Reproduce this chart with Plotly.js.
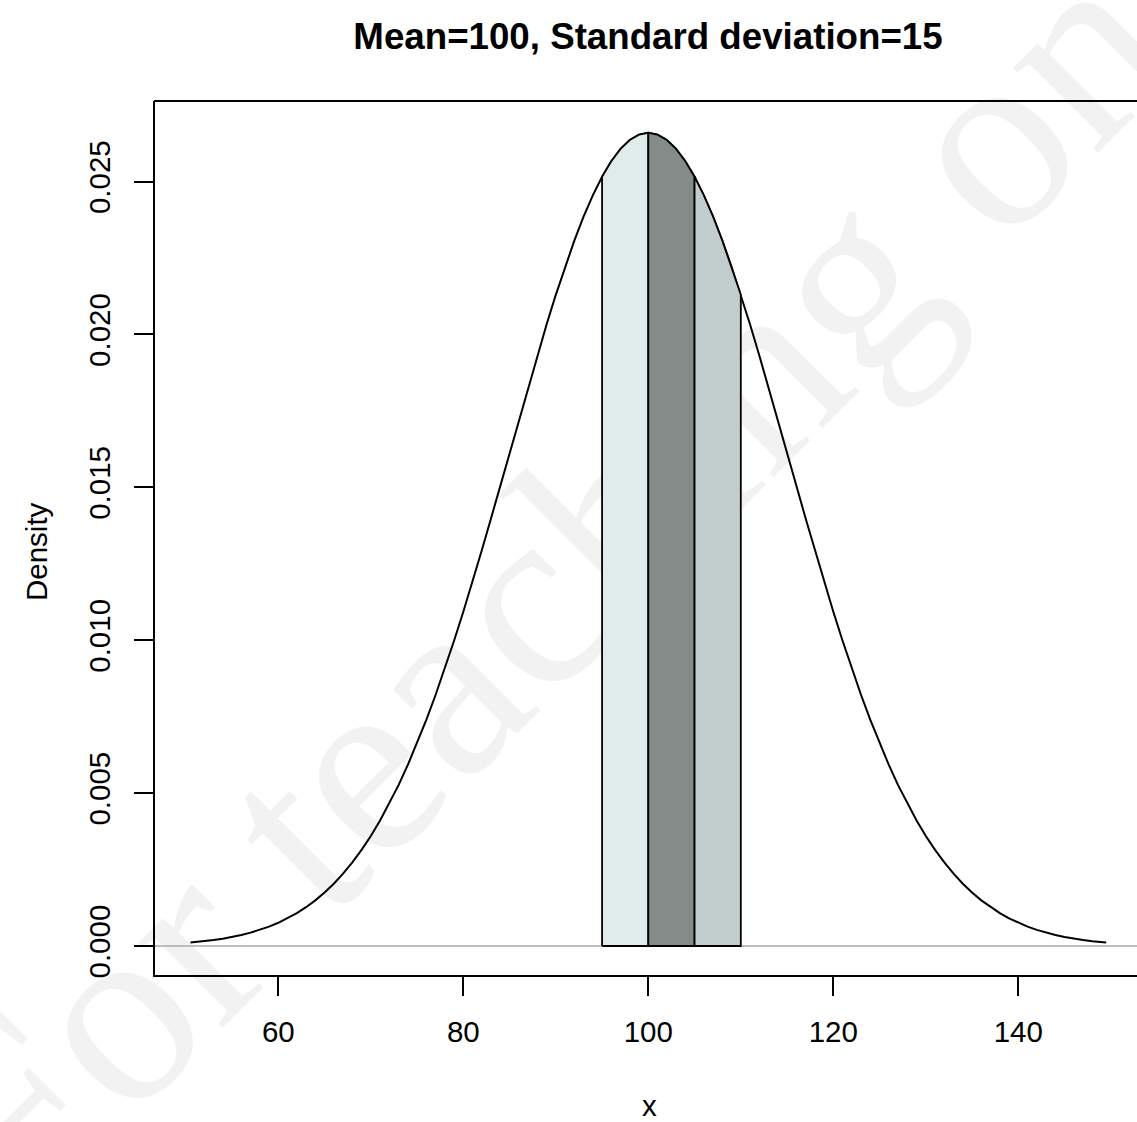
<!DOCTYPE html>
<html>
<head>
<meta charset="utf-8">
<script src="https://cdn.plot.ly/plotly-3.0.1.min.js"></script>
<style>html,body{margin:0;padding:0;background:#fff;}#chart{width:1137px;height:1122px;}</style>
</head>
<body>
<div id="chart"></div>
<script>
// Density curve points
const xValues = [50.5,51,52,53,54,55,56,57,58,59,60,61,62,63,64,65,66,67,68,69,70,71,72,73,74,75,76,77,78,79,80,81,82,83,84,85,86,87,88,89,90,91,92,93,94,95,96,97,98,99,100,
101,102,103,104,105,106,107,108,109,110,111,112,113,114,115,116,117,118,119,120,121,122,123,124,125,126,127,128,129,130,131,132,133,134,135,136,137,138,139,140,141,142,143,144,145,146,147,148,149,149.5];
const densityValues = [0.000115,0.000128,0.000159,0.000196,0.000241,0.000295,0.000360,0.000437,0.000528,0.000635,0.000760,0.000906,0.001075,0.001270,0.001493,0.001748,0.002038,0.002365,0.002733,0.003143,0.003599,0.004104,0.004658,0.005263,0.005921,0.006632,0.007395,0.008209,0.009072,0.009982,0.010934,0.011924,0.012946,0.013993,0.015058,0.016131,0.017205,0.018269,0.019313,0.020326,0.021297,0.022215,0.023070,0.023852,0.024552,0.025159,0.025667,0.026070,0.026361,0.026537,0.026596,
0.026537,0.026361,0.026070,0.025667,0.025159,0.024552,0.023852,0.023070,0.022215,0.021297,0.020326,0.019313,0.018269,0.017205,0.016131,0.015058,0.013993,0.012946,0.011924,0.010934,0.009982,0.009072,0.008209,0.007395,0.006632,0.005921,0.005263,0.004658,0.004104,0.003599,0.003143,0.002733,0.002365,0.002038,0.001748,0.001493,0.001270,0.001075,0.000906,0.000760,0.000635,0.000528,0.000437,0.000360,0.000295,0.000241,0.000196,0.000159,0.000128,0.000115];

// Shaded bands
const bandStarts = [95, 100, 105];
const bandEnds = [100, 105, 110];
const bandColors = ['#e0ecec', '#848b89', '#c2cece'];

const xTickVals = [60, 80, 100, 120, 140];
const yTickVals = [0, 0.005, 0.010, 0.015, 0.020, 0.025];
const yTickText = ['0.000', '0.005', '0.010', '0.015', '0.020', '0.025'];

const titleText = 'Mean=100, Standard deviation=15';
const xLabel = 'x';
const yLabel = 'Density';
const watermarkText = 'For teaching only';

const traces = [];
traces.push({
  x: xValues, y: densityValues, type: 'scatter', mode: 'lines',
  line: {color: '#000', width: 2}, hoverinfo: 'skip', showlegend: false
});
for (let b = 0; b < bandStarts.length; b++) {
  const px = [bandStarts[b]], py = [0];
  for (let i = 0; i < xValues.length; i++) {
    if (xValues[i] >= bandStarts[b] && xValues[i] <= bandEnds[b]) { px.push(xValues[i]); py.push(densityValues[i]); }
  }
  px.push(bandEnds[b]); py.push(0);
  px.push(bandStarts[b]); py.push(0);
  traces.push({
    x: px, y: py, type: 'scatter', mode: 'lines', fill: 'toself',
    fillcolor: bandColors[b], line: {color: '#000', width: 1.8},
    hoverinfo: 'skip', showlegend: false
  });
}

const W = 1137, H = 1122, L = 155, R = 0, T = 101, B = 147;
const pw = W - L - R, ph = H - T - B;
function px2paperX(p) { return (p - L) / pw; }
function px2paperY(p) { return (H - B - p) / ph; }

const wmCx = px2paperX(697), wmCy = px2paperY(597);
const dxp = 100 / pw, dyp = 100 / ph;

const layout = {
  width: W, height: H,
  margin: {l: L, r: R, t: T, b: B, pad: 0},
  paper_bgcolor: '#fff', plot_bgcolor: 'rgba(0,0,0,0)',
  showlegend: false,
  title: {
    text: '<b>' + titleText + '</b>',
    font: {family: 'Liberation Sans, Arial, sans-serif', size: 36.7, color: '#000'},
    x: 648 / W, xref: 'container', xanchor: 'center',
    y: 1 - 36 / H, yref: 'container', yanchor: 'middle'
  },
  xaxis: {
    range: [46.67, 152.83], tickvals: xTickVals, ticktext: xTickVals.map(String),
    showgrid: false, zeroline: false, showline: true, linecolor: '#000', linewidth: 2,
    ticks: 'outside', ticklen: 19, tickwidth: 2, tickcolor: '#000',
    tickfont: {family: 'Liberation Sans, Arial, sans-serif', size: 29.5, color: '#000'},
    ticklabelstandoff: 11
  },
  yaxis: {
    range: [-0.000948, 0.027636], tickvals: yTickVals, ticktext: yTickText,
    showgrid: false, zeroline: false, showline: true, linecolor: '#000', linewidth: 2,
    ticks: 'outside', ticklen: 19, tickwidth: 2, tickcolor: '#000', tickangle: -90,
    tickfont: {family: 'Liberation Sans, Arial, sans-serif', size: 29.5, color: '#000'},
    ticklabelstandoff: 12
  },
  shapes: [
    {
      type: 'line', xref: 'paper', yref: 'paper', layer: 'below',
      x0: wmCx - dxp, y0: wmCy - dyp, x1: wmCx + dxp, y1: wmCy + dyp,
      line: {width: 0, color: 'rgba(0,0,0,0)'},
      label: {text: watermarkText, textangle: -45, textposition: 'middle',
        font: {family: 'Liberation Serif, Times New Roman, serif', size: 262, color: '#f2f2f2'}}
    },
    {
      type: 'line', xref: 'paper', yref: 'y', layer: 'below',
      x0: 0, x1: 1, y0: 0, y1: 0, line: {color: '#bebebe', width: 2}
    },
    {
      type: 'line', xref: 'paper', yref: 'paper', layer: 'above',
      x0: -0.001, x1: 1.01, y0: 1, y1: 1, line: {color: '#000', width: 2}
    }
  ],
  annotations: [
    {text: xLabel, xref: 'paper', yref: 'paper', x: px2paperX(649), y: px2paperY(1105),
      xanchor: 'center', yanchor: 'middle', showarrow: false,
      font: {family: 'Liberation Sans, Arial, sans-serif', size: 29.5, color: '#000'}},
    {text: yLabel, xref: 'paper', yref: 'paper', x: px2paperX(36), y: px2paperY(552),
      xanchor: 'center', yanchor: 'middle', showarrow: false, textangle: -90,
      font: {family: 'Liberation Sans, Arial, sans-serif', size: 29.5, color: '#000'}}
  ]
};

Plotly.newPlot('chart', traces, layout, {displayModeBar: false, staticPlot: true});
</script>
</body>
</html>
